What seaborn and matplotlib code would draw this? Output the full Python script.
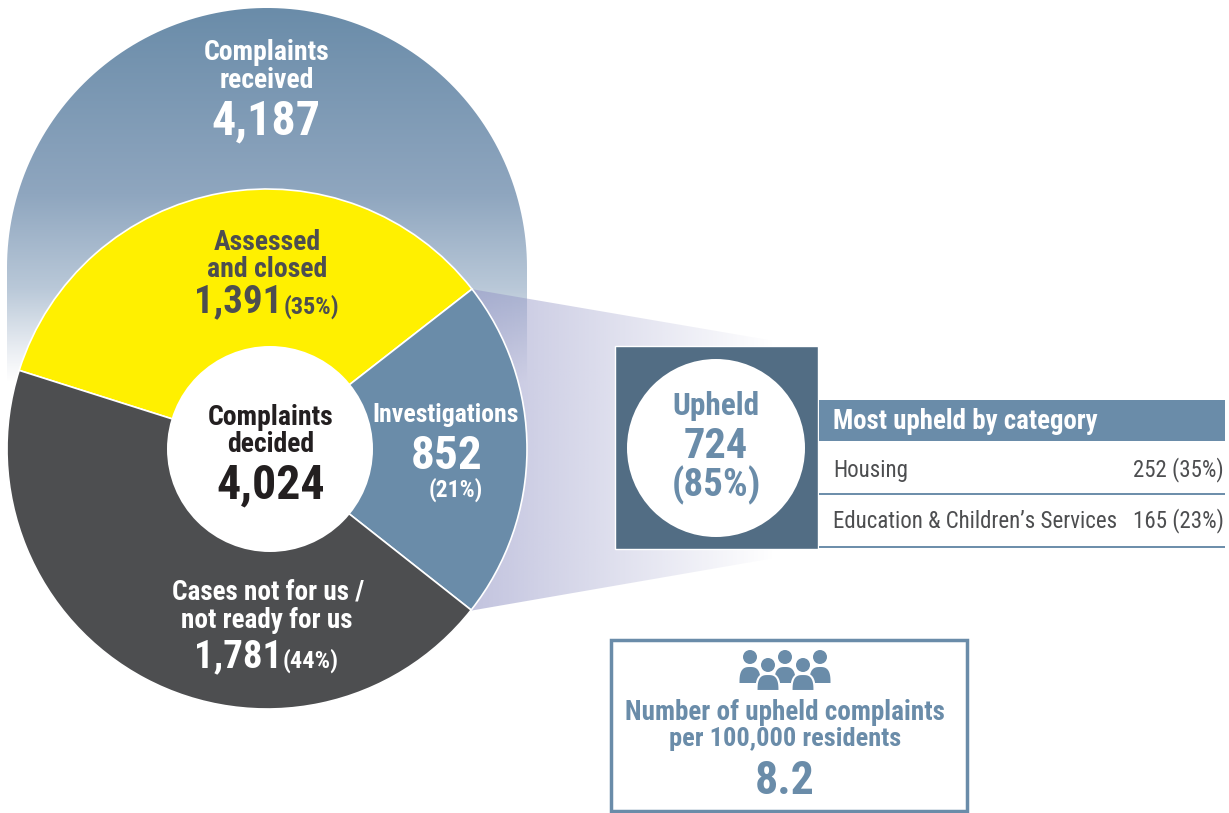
import numpy as np
import matplotlib
matplotlib.use('Agg')
import matplotlib.pyplot as plt
import matplotlib.font_manager as fm
import seaborn as sns
from matplotlib.colors import LinearSegmentedColormap
from matplotlib.patches import Circle, Polygon, Rectangle

# data
slice_names = ['Assessed\nand closed', 'Investigations', 'Cases not for us /\nnot ready for us']
slice_values = [1391, 852, 1781]
slice_pcts = [35, 21, 44]
received = 4187
decided = 4024
upheld = 724
upheld_pct = 85
categories = ['Housing', "Education & Children\u2019s Services"]
category_values = [252, 165]
category_pcts = [35, 23]
per_100k = 8.2

W, H = 1229, 813
BLUE = '#6a8ca9'
DARK = '#4d4e50'
YELLOW = '#fff000'
SLATE = '#526d84'

sns.set_theme(style='white')
installed = {f.name for f in fm.fontManager.ttflist}
narrow = [n for n in ['Roboto Condensed', 'IBM Plex Sans Condensed', 'Barlow Condensed', 'Liberation Sans'] if n in installed]
plt.rcParams['font.family'] = [narrow[0], 'DejaVu Sans']

fig = plt.figure(figsize=(W / 100, H / 100), dpi=100, facecolor='white')


def pixel_axes(z):
    a = fig.add_axes([0, 0, 1, 1], zorder=z)
    a.set_xlim(0, W)
    a.set_ylim(H, 0)
    a.axis('off')
    a.patch.set_alpha(0)
    return a


bg = pixel_axes(0)
top = pixel_axes(2)

# dome behind the donut
dome_cmap = LinearSegmentedColormap.from_list(
    'dome', [(0, '#6a8ca9'), (0.5, '#8fa6bf'), (0.75, '#b9c8d8'), (0.93, '#eef1f5'), (1, '#ffffff')])
im = bg.imshow(np.linspace(0, 1, 256).reshape(-1, 1), cmap=dome_cmap, aspect='auto',
               extent=[7, 527, 382, 8], zorder=1)
theta = np.linspace(np.pi, 0, 120)
dome_pts = np.column_stack([267 + 260 * np.cos(theta), 268 - 260 * np.sin(theta)])
dome_pts = np.vstack([[7, 382], dome_pts, [527, 382]])
dome = Polygon(dome_pts, closed=True, transform=bg.transData, fc='none', ec='none')
bg.add_patch(dome)
im.set_clip_path(dome)

# fan from the investigations slice to the upheld box
fan_rgba = np.zeros((2, 256, 4))
fan_rgba[..., :3] = np.array([150, 152, 199]) / 255
fan_rgba[..., 3] = np.linspace(0.58, 0, 256)
fan_im = bg.imshow(fan_rgba, aspect='auto', extent=[470, 775, 612, 288], zorder=2)
fan = Polygon([[471, 289], [775, 341], [775, 558], [469, 611]], closed=True,
              transform=bg.transData, fc='none', ec='none')
bg.add_patch(fan)
fan_im.set_clip_path(fan)
bg.set_xlim(0, W)
bg.set_ylim(H, 0)

# donut
ax = fig.add_axes([7 / W, (H - 709) / H, 520 / W, 520 / H], zorder=1)
ax.patch.set_alpha(0)
ax.pie(slice_values, colors=sns.color_palette([YELLOW, BLUE, DARK]), startangle=162.4, counterclock=False,
       radius=1, wedgeprops=dict(edgecolor='white', linewidth=1.2))
ax.set_xlim(-1, 1)
ax.set_ylim(-1, 1)
ax.axis('off')
top.add_patch(Circle((270, 449), 103, fc='white', ec='none'))


def txt(x, y, s, size, color='white', weight='bold', ha='center'):
    top.text(x, y + 2, s, fontsize=size, color=color, fontweight=weight, ha=ha, va='center', linespacing=1.0)


# donut labels
txt(267, 50, 'Complaints', 20)
txt(267, 78, 'received', 20)
txt(266, 119, f'{received:,}', 34.5)

a, b = slice_names[0].split('\n')
txt(267, 240, a, 20, DARK)
txt(267, 267, b, 20, DARK)
txt(238, 300, f'{slice_values[0]:,}', 28, DARK)
txt(311, 305, f'({slice_pcts[0]}%)', 17.5, DARK)

txt(446, 413, slice_names[1], 18.5)
txt(447, 454, f'{slice_values[1]:,}', 34)
txt(456, 488, f'({slice_pcts[1]}%)', 17)

a, b = slice_names[2].split('\n')
txt(268, 590, a, 19.5)
txt(267, 618, b, 19.5)
txt(238, 655, f'{slice_values[2]:,}', 28)
txt(311, 659, f'({slice_pcts[2]}%)', 17.5)

txt(271, 415, 'Complaints', 20, '#231f20')
txt(271, 442, 'decided', 20, '#231f20')
txt(271, 483, f'{decided:,}', 34.5, '#231f20')

# upheld box
top.add_patch(Rectangle((615, 346), 203, 203, fc=SLATE, ec='white', lw=1))
top.add_patch(Circle((716, 448), 89, fc='white', ec='none'))
txt(716, 404, 'Upheld', 22.5, BLUE)
txt(716, 444, f'{upheld}', 30.5, BLUE)
txt(716, 483, f'({upheld_pct}%)', 28, BLUE)

# table
top.add_patch(Rectangle((819, 400), 406, 41, fc=BLUE, ec='none'))
txt(833, 419, 'Most upheld by category', 19.4, ha='left')
row_y = [468, 519]
line_y = [494, 547]
for name, v, p, ry, ly in zip(categories, category_values, category_pcts, row_y, line_y):
    txt(833, ry, name, 16.5, DARK, 'normal', 'left')
    txt(1224, ry, f'{v} ({p}%)', 16.5, DARK, 'normal', 'right')
    top.plot([819, 1225], [ly, ly], color=BLUE, lw=1.4, solid_capstyle='butt')

# per 100,000 box
top.add_patch(Rectangle((611, 640), 356, 171, fc='white', ec=BLUE, lw=2.5))


def person(cx, head_y, body_top, body_bot, half, outline):
    t = np.linspace(np.pi, 0, 40)
    shoulder = np.column_stack([cx + half * np.sign(np.cos(t)) * np.abs(np.cos(t)) ** 0.7,
                                body_bot - (body_bot - body_top) * np.sin(t) ** 0.7])
    top.add_patch(Polygon(shoulder, closed=True, fc=BLUE, ec='white' if outline else 'none', lw=1.5 if outline else 0))
    top.add_patch(Circle((cx, head_y), 7, fc=BLUE, ec='none'))


for cx in [750, 785, 820]:
    person(cx, 657, 667, 683, 10.5, False)
for cx in [768, 803]:
    person(cx, 665, 674, 691, 11.5, True)

txt(785, 710, 'Number of upheld complaints', 19.5, BLUE)
txt(785, 737, 'per 100,000 residents', 19, BLUE)
txt(785, 779, f'{per_100k}', 33, BLUE)

fig.savefig('out.png', dpi=100)
